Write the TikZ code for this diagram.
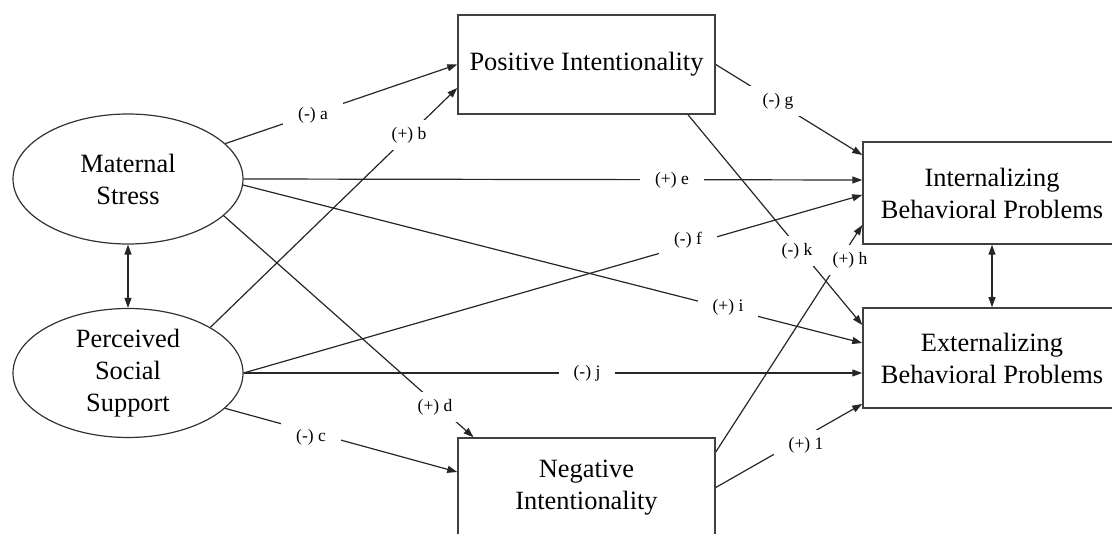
\documentclass[tikz,border=0pt]{standalone}
\usepackage{fontspec}
\setmainfont{Liberation Serif}
\usetikzlibrary{shapes.geometric,arrows.meta,calc}
\newcommand\nodetxt{\fontsize{26.4}{32}\selectfont}
\newcommand\pathtxt{\fontsize{17.5}{21}\selectfont}
\begin{document}
\begin{tikzpicture}[x=1pt,y=-1pt,
  box/.style={draw=black!75, line width=1.5pt, fill=white, align=center,
    inner sep=0pt, font=\nodetxt, text=black},
  oval/.style={ellipse, draw=black!80, line width=1.2pt, fill=white, align=center,
    inner sep=0pt, minimum width=230pt, font=\nodetxt, text=black},
  conn/.style={line width=1.2pt, draw=black!85, -{Triangle[length=10pt,width=7pt]}},
  both/.style={line width=1.2pt, draw=black!85,
    {Triangle[length=10pt,width=7pt]}-{Triangle[length=10pt,width=7pt]}},
  lbl/.style={fill=white, inner xsep=15pt, inner ysep=7pt, font=\pathtxt, text=black}]

\useasboundingbox (0,0) rectangle (1112,534);
\clip (0,0) rectangle (1112,534);

% constructs
\node[oval, minimum height=130pt] (ms) at (128,179) {Maternal\\Stress};
\node[oval, minimum height=129pt] (pss) at (128,373) {Perceived\\Social\\Support};

% mediators
\node[box, minimum width=257pt, minimum height=99pt] (pos) at (586.5,64.5) {Positive Intentionality};
\node[box, minimum width=257pt, minimum height=99pt] (neg) at (586.5,487.5) {Negative\\Intentionality};

% outcomes
\node[box, minimum width=258pt, minimum height=102pt] (int) at (992,193) {Internalizing\\Behavioral Problems};
\node[box, minimum width=258pt, minimum height=100pt] (ext) at (992,358) {Externalizing\\Behavioral Problems};

% correlations
\draw[both] (ms.south) -- (pss.north);
\draw[both] (int.south) -- (ext.north);

% paths to the mediators
\draw[conn] (ms.20) -- (pos.west);
\draw[conn] (pss.29) -- ([yshift=-23.5pt]pos.west);
\draw[conn] (pss.-20) -- ([yshift=15.5pt]neg.west);
\draw[conn] (ms.-21) -- ([xshift=-113pt]neg.north);

% direct paths
\draw[conn] (ms.east) -- ([yshift=13pt]int.west);
\draw[conn] (pss.east) -- ([yshift=-2pt]int.west);
\draw[conn] (ms.-3) -- ([yshift=15pt]ext.west);
\draw[conn] (pss.east) -- ([yshift=-15pt]ext.west);

% paths from the mediators
\draw[conn] (pos.east) -- ([yshift=38pt]int.west);
\draw[conn] ([xshift=101.5pt]pos.south) -- ([yshift=33pt]ext.west);
\draw[conn] ([yshift=35.5pt]neg.east) -- ([yshift=-32pt]int.west);
\draw[conn] (neg.east) -- ([yshift=-46pt]ext.west);

% path labels, set over the lines
\node[lbl] (la) at (313,115) {(-) a};
\node[lbl] (lb) at (409,135) {(+) b};
\node[lbl] (lc) at (311,437) {(-) c};
\node[lbl] (ld) at (435,407) {(+) d};
\node[lbl] (le) at (672,180) {(+) e};
\node[lbl] (lf) at (688,240) {(-) f};
\node[lbl] (lg) at (778,101) {(-) g};
\node[lbl] (lk) at (797,251) {(-) k};
\node[lbl, inner xsep=7pt] (lh) at (850,260) {(+) h};
\node[lbl] (li) at (728,307) {(+) i};
\node[lbl] (lj) at (587,373) {(-) j};
\node[lbl] (ll) at (806,445) {(+) 1};
\end{tikzpicture}
\end{document}
